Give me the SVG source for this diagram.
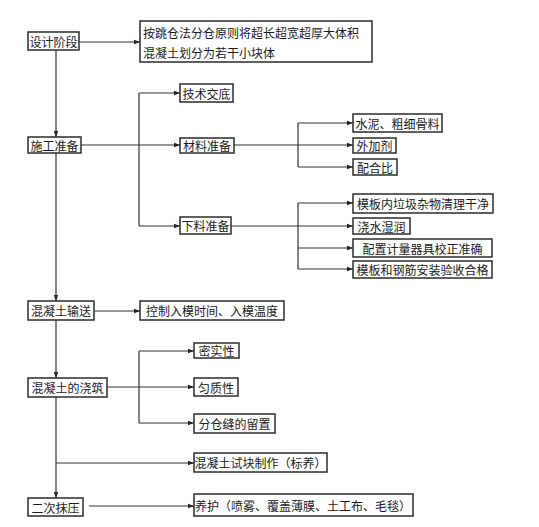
<svg xmlns="http://www.w3.org/2000/svg" width="539" height="527" viewBox="0 0 539 527">
<style>
.box{fill:#fff;stroke:#2b2b2b;stroke-width:1.5}
.t{font-family:"Noto Sans CJK SC","Noto Sans CJK JP",sans-serif;font-size:12px;fill:#1a1a1a;dominant-baseline:central}
.c{text-anchor:middle}
.ln{fill:none;stroke:#333;stroke-width:1.2}
.ar{fill:none;stroke:#333;stroke-width:1.2;marker-end:url(#ah)}
</style>
<defs>
<marker id="ah" viewBox="0 0 6 6" refX="6" refY="3" markerWidth="6" markerHeight="6" markerUnits="userSpaceOnUse" orient="auto">
<path d="M0,0.8 L6,3 L0,5.2 Z" fill="#222"/>
</marker>
</defs>
<rect width="539" height="527" fill="#fff"/>
<g id="connectors">
<path class="ar" d="M79,42 H140"/>
<path class="ar" d="M56,50 V137"/>
<path class="ar" d="M56,153 V301"/>
<path class="ar" d="M56,320 V378"/>
<path class="ar" d="M56,397 V498"/>
<path class="ar" d="M56,463 H194"/>
<path class="ar" d="M81,145 H180"/>
<path class="ln" d="M139,93 V226"/>
<path class="ar" d="M139,93 H180"/>
<path class="ar" d="M139,226 H180"/>
<path class="ar" d="M234,145 H353"/>
<path class="ln" d="M298,123 V167"/>
<path class="ar" d="M298,123 H353"/>
<path class="ar" d="M298,167 H353"/>
<path class="ar" d="M231,226 H353"/>
<path class="ln" d="M298,203 V269"/>
<path class="ar" d="M298,203 H353"/>
<path class="ar" d="M298,248 H353"/>
<path class="ar" d="M298,269 H353"/>
<path class="ar" d="M94,311 H140"/>
<path class="ar" d="M107,387 H194"/>
<path class="ln" d="M139,351 V423"/>
<path class="ar" d="M139,351 H194"/>
<path class="ar" d="M139,423 H194"/>
<path class="ar" d="M89,506 H194"/>
</g>
<g id="n-sheji"><rect class="box" x="28" y="32" width="51" height="18"/><text class="t c" x="53.5" y="41">设计阶段</text></g>
<g id="n-tiaocang"><rect class="box" x="140" y="21" width="232" height="41"/><text class="t" x="143" y="32">按跳仓法分仓原则将超长超宽超厚大体积</text><text class="t" x="143" y="52">混凝土划分为若干小块体</text></g>
<g id="n-shigong"><rect class="box" x="28" y="137" width="53" height="16"/><text class="t c" x="54.5" y="145">施工准备</text></g>
<g id="n-jishu"><rect class="box" x="180" y="84" width="53" height="18"/><text class="t c" x="206.5" y="93">技术交底</text></g>
<g id="n-cailiao"><rect class="box" x="180" y="138" width="54" height="15"/><text class="t c" x="207" y="145.5">材料准备</text></g>
<g id="n-shuini"><rect class="box" x="353" y="114" width="89" height="18"/><text class="t c" x="397.5" y="123">水泥、粗细骨料</text></g>
<g id="n-waijia"><rect class="box" x="353" y="138" width="43" height="15"/><text class="t c" x="374.5" y="145.5">外加剂</text></g>
<g id="n-peihe"><rect class="box" x="353" y="159" width="44" height="16"/><text class="t c" x="375" y="167">配合比</text></g>
<g id="n-xialiao"><rect class="box" x="180" y="217" width="51" height="17"/><text class="t c" x="205.5" y="225.5">下料准备</text></g>
<g id="n-muban"><rect class="box" x="353" y="194" width="140" height="19"/><text class="t c" x="423" y="203.5">模板内垃圾杂物清理干净</text></g>
<g id="n-jiaoshui"><rect class="box" x="353" y="218" width="57" height="16"/><text class="t c" x="381.5" y="226">浇水湿润</text></g>
<g id="n-peizhi"><rect class="box" x="353" y="239" width="139" height="18"/><text class="t c" x="422.5" y="248">配置计量器具校正准确</text></g>
<g id="n-anzhuang"><rect class="box" x="353" y="261" width="139" height="17"/><text class="t c" x="422.5" y="269.5">模板和钢筋安装验收合格</text></g>
<g id="n-shusong"><rect class="box" x="28" y="301" width="66" height="19"/><text class="t c" x="61" y="310.5">混凝土输送</text></g>
<g id="n-kongzhi"><rect class="box" x="140" y="301" width="144" height="19"/><text class="t c" x="212" y="310.5">控制入模时间、入模温度</text></g>
<g id="n-mishi"><rect class="box" x="194" y="343" width="45" height="15"/><text class="t c" x="216.5" y="350.5">密实性</text></g>
<g id="n-jiaozhu"><rect class="box" x="28" y="378" width="79" height="19"/><text class="t c" x="67.5" y="387.5">混凝土的浇筑</text></g>
<g id="n-junzhi"><rect class="box" x="194" y="378" width="44" height="18"/><text class="t c" x="216" y="387">匀质性</text></g>
<g id="n-fencang"><rect class="box" x="194" y="414" width="81" height="19"/><text class="t c" x="234.5" y="423.5">分仓缝的留置</text></g>
<g id="n-shikuai"><rect class="box" x="194" y="453" width="133" height="19"/><text class="t c" x="260.5" y="462.5">混凝土试块制作（标养）</text></g>
<g id="n-mozha"><rect class="box" x="28" y="498" width="55" height="18"/><text class="t c" x="55.5" y="507">二次抹压</text></g>
<g id="n-yanghu"><rect class="box" x="194" y="494" width="219" height="22"/><text class="t" x="195" y="505">养护（喷雾、覆盖薄膜、土工布、毛毯）</text></g>
</svg>
